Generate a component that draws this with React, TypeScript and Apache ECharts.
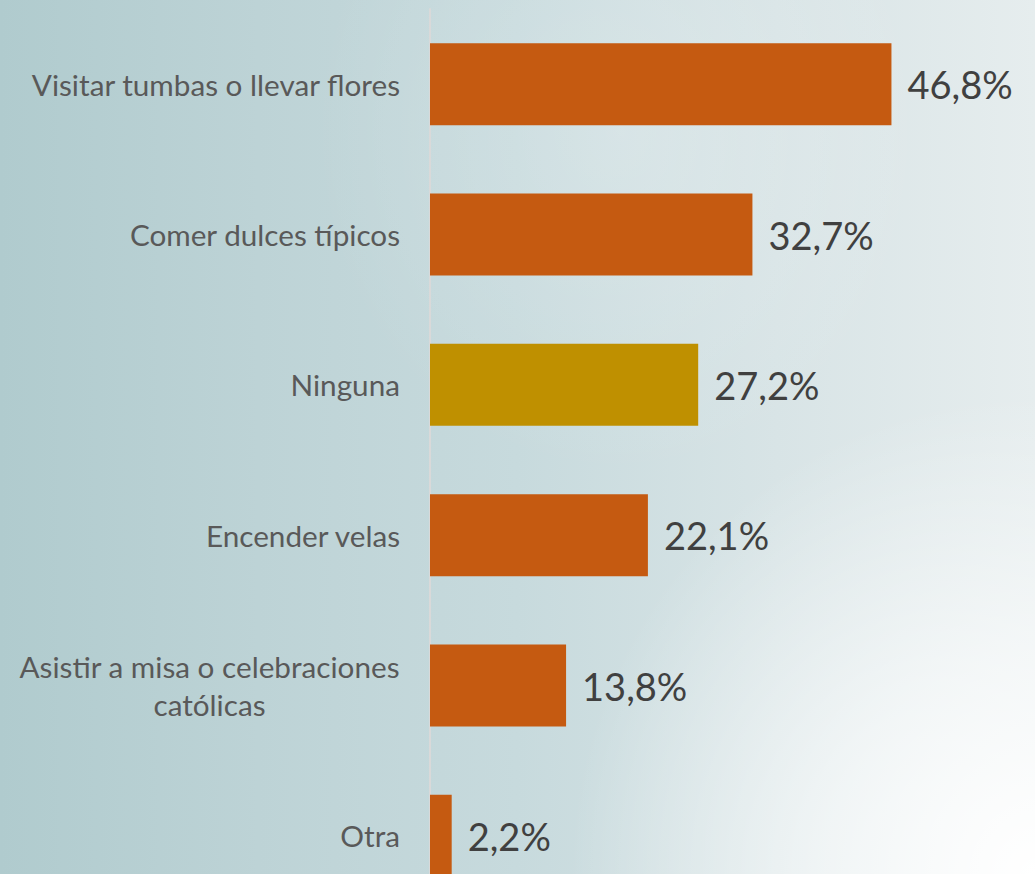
import React, { useEffect, useRef } from "react";
import * as echarts from "echarts";

const categories = [
  "Visitar tumbas o llevar flores",
  "Comer dulces típicos",
  "Ninguna",
  "Encender velas",
  "Asistir a misa o celebraciones\ncatólicas",
  "Otra",
];
const values = [46.8, 32.7, 27.2, 22.1, 13.8, 2.2];
const barColors = ["#c55a11", "#c55a11", "#bf9000", "#c55a11", "#c55a11", "#c55a11"];

const CAT_FONT = 29.7;

function measure(text: string): number {
  const c = document.createElement("canvas").getContext("2d");
  if (!c) return 380;
  c.font = `${CAT_FONT}px Lato`;
  return Math.ceil(c.measureText(text).width);
}

export default function App() {
  const ref = useRef<HTMLDivElement>(null);
  useEffect(() => {
    if (!ref.current) return;
    const chart = echarts.init(ref.current, undefined, { renderer: "svg" });
    chart.setOption({
      animation: false,
      backgroundColor: "transparent",
      grid: { left: 430, right: 112, top: 9, bottom: 0, containLabel: false },
      xAxis: {
        type: "value",
        min: 0,
        max: 50,
        show: false,
      },
      yAxis: {
        type: "category",
        inverse: true,
        data: categories,
        axisLine: { show: true, lineStyle: { color: "#d9d9d9", width: 2 } },
        axisTick: { show: false },
        splitLine: { show: false },
        axisLabel: {
          margin: 30,
          fontFamily: "Lato",
          fontSize: CAT_FONT,
          color: "#595959",
          align: "right",
          formatter: (v: string) => {
            if (v.includes("\n")) {
              const lines = v.split("\n");
              const w = Math.max(...lines.map(measure));
              return lines.map((l) => `{c${w}|${l}}`).join("\n");
            }
            return v;
          },
          rich: Object.fromEntries(
            categories
              .filter((c) => c.includes("\n"))
              .map((c) => {
                const w = Math.max(...c.split("\n").map(measure));
                return [
                  `c${w}`,
                  {
                    width: w,
                    align: "center",
                    fontFamily: "Lato",
                    fontSize: CAT_FONT,
                    color: "#595959",
                    lineHeight: 38,
                  },
                ];
              })
          ),
        },
      },
      series: [
        {
          type: "bar",
          barWidth: 82,
          data: values.map((v, i) => ({ value: v, itemStyle: { color: barColors[i] } })),
          label: {
            show: true,
            position: "right",
            distance: 16,
            fontFamily: "Lato",
            fontSize: 38,
            color: "#404040",
            formatter: (p: any) => p.value.toFixed(1).replace(".", ",") + "%",
          },
        },
      ],
    });
    return () => chart.dispose();
  }, []);
  return (
    <div
      style={{
        position: "fixed",
        left: 0,
        top: 0,
        width: 1035,
        height: 874,
        overflow: "hidden",
        background:
          "radial-gradient(ellipse 45% 55% at 100% 100%, #ffffff 0%, rgba(255,255,255,0.6) 45%, rgba(255,255,255,0) 100%), radial-gradient(ellipse 30% 40% at 60% 15%, rgba(255,255,255,0.2) 0%, rgba(255,255,255,0) 100%), linear-gradient(to right, #b0cbce 0%, #bdd3d6 25%, #c7dadd 50%, #d8e4e6 75%, #e6edee 100%)",
      }}
    >
      <div ref={ref} style={{ width: 1035, height: 911 }} />
    </div>
  );
}
